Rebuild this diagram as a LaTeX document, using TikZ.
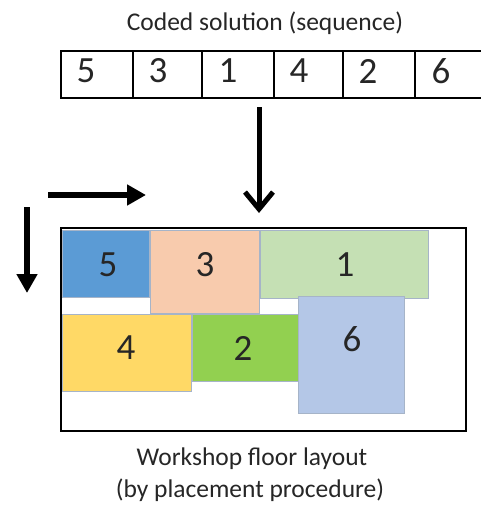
\documentclass[tikz,border=0pt]{standalone}
\usepackage{fontspec}
\setmainfont{Carlito}
\usetikzlibrary{arrows.meta}
\definecolor{cfive}{HTML}{5B9BD5}
\definecolor{cthree}{HTML}{F8CBAD}
\definecolor{cone}{HTML}{C5E0B4}
\definecolor{cfour}{HTML}{FFD966}
\definecolor{ctwo}{HTML}{92D050}
\definecolor{csix}{HTML}{B4C7E7}
\definecolor{edgegray}{HTML}{A6B4C8}
\definecolor{txt}{HTML}{262626}
\tikzset{
  captext/.style={font=\fontsize{25.5}{32}\selectfont, text=txt, inner sep=0pt},
  digit/.style={font=\fontsize{37}{40}\selectfont, text=txt, inner sep=0pt},
  cell/.style={draw=black, line width=1.8pt, minimum height=47pt, inner sep=0pt, anchor=north west},
  block/.style={draw=edgegray, line width=0.9pt, inner sep=0pt, anchor=north west},
  fatarrow/.style={line width=5.5pt, -{Triangle[length=19pt, width=20pt]}},
  vee/.style={line width=5pt, -{Straight Barb[length=17pt, width=28pt, line width=5pt]}},
}
\begin{document}
\begin{tikzpicture}[x=1pt, y=-1pt]
\useasboundingbox (0,0) rectangle (481,506);
\clip (0,0) rectangle (481,506);
% title
\node[captext, anchor=base] (title) at (265,30) {Coded solution (sequence)};
% sequence cells
\node[cell, minimum width=72pt] (s1) at (60,50) {};
\node[cell, minimum width=69pt] (s2) at (132,50) {};
\node[cell, minimum width=72pt] (s3) at (201,50) {};
\node[cell, minimum width=69pt] (s4) at (273,50) {};
\node[cell, minimum width=72pt] (s5) at (342,50) {};
\node[cell, minimum width=90pt] (s6) at (414,50) {};
\node[digit] (d1) at (86,71) {5};
\node[digit] (d2) at (158,71) {3};
\node[digit] (d3) at (228,71) {1};
\node[digit] (d4) at (299,71) {4};
\node[digit] (d5) at (368,71) {2};
\node[digit] (d6) at (441,71) {6};
% layout frame
\node[draw=black, line width=1.8pt, minimum width=405pt, minimum height=203pt, inner sep=0pt, anchor=north west] (floor) at (60,227) {};
% blocks
\node[block, fill=cfive, minimum width=87pt, minimum height=67pt] (b5) at (62,230) {};
\node[block, fill=cthree, minimum width=109pt, minimum height=83pt] (b3) at (150,230) {};
\node[block, fill=cone, minimum width=168pt, minimum height=68pt] (b1) at (260,230) {};
\node[block, fill=cfour, minimum width=129pt, minimum height=77pt] (b4) at (62,314) {};
\node[block, fill=ctwo, minimum width=106pt, minimum height=67pt] (b2) at (192,314) {};
\node[block, fill=csix, minimum width=106pt, minimum height=117pt] (b6) at (298,296) {};
\node[digit] (l5) at (108,265) {5};
\node[digit] (l3) at (205,265) {3};
\node[digit] (l1) at (345,265) {1};
\node[digit] (l4) at (126,348) {4};
\node[digit] (l2) at (243,348) {2};
\node[digit] (l6) at (352,339) {6};
% arrows
\coordinate (downstart) at (259,107);
\coordinate (downend) at (259,213);
\draw[vee] (downstart) -- (downend);
\coordinate (rstart) at (48,195);
\coordinate (rend) at (146,195);
\draw[fatarrow] (rstart) -- (rend);
\coordinate (vstart) at (27,207);
\coordinate (vend) at (27,293);
\draw[fatarrow] (vstart) -- (vend);
% caption
\node[captext, anchor=base] (caption) at (252,465) {Workshop floor layout};
\node[captext, anchor=base] (caption2) at (250,497) {(by placement procedure)};
\end{tikzpicture}
\end{document}
